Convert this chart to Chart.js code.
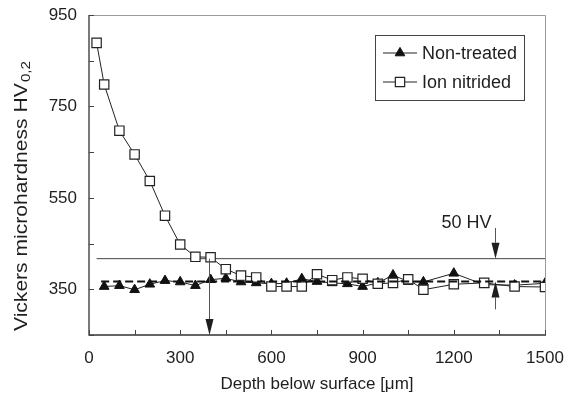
<!DOCTYPE html>
<html lang="en">
<head>
<meta charset="UTF-8" />
<title>Vickers microhardness profile</title>
<script src="https://cdn.jsdelivr.net/npm/chart.js@4.4.1/dist/chart.umd.min.js"></script>
<style>
  html, body { margin: 0; padding: 0; background: #fff; }
  .chart-container { width: 577px; height: 413px; }
</style>
</head>
<body>
<div class="chart-container"><canvas id="myChart"></canvas></div>
<script>
// depth below surface [um] and hardness HV0,2
const depthIon = [25, 50, 100, 150, 200, 250, 300, 350, 400, 450, 500, 550, 600, 650, 700, 750, 800, 850, 900, 950, 1000, 1050, 1100, 1200, 1300, 1400, 1500];
const ionNitrided = [889, 798, 697, 645, 587, 511, 448, 421, 420, 394, 380, 376, 356, 356, 356, 383, 370, 376, 373, 362, 364, 372, 349, 361, 364, 356, 355];

const depthNon = [50, 100, 150, 200, 250, 300, 350, 400, 450, 500, 550, 600, 650, 700, 750, 800, 850, 900, 950, 1000, 1050, 1100, 1200, 1300, 1400, 1500];
const nonTreated = [356, 358, 349, 361, 369, 366, 358, 371, 374, 366, 364, 362, 363, 373, 367, 364, 362, 356, 364, 381, 367, 366, 385, 360, 359, 363];

const meanHV = 367;        // core hardness (dashed)
const limitHV = 417;       // core + 50 HV
const meanStart = 40;
const limitStart = 25;
const caseDepth = 395;     // nitrided depth arrow
const markDepth = 1335;    // "50 HV" arrows
const upperTail = 484;
const lowerTail = 306;
const labelHV = 496;

const xTickLabels = [0, 300, 600, 900, 1200, 1500];
const yTickLabels = [350, 550, 750, 950];

const FONT = "'Liberation Sans', Arial, Helvetica, sans-serif";
const INK = "#1e1e1e";

function pts(xs, ys) {
  return xs.map(function (x, i) { return { x: x, y: ys[i] }; });
}

// frame + inward tick marks
const framePlugin = {
  id: "frame",
  beforeDatasetsDraw(chart) {
    const ctx = chart.ctx;
    const a = chart.chartArea;
    const xs = chart.scales.x, ys = chart.scales.y;
    ctx.save();
    ctx.strokeStyle = "#9a9a9a";
    ctx.lineWidth = 1;
    ctx.beginPath();
    ctx.moveTo(a.left, a.top + 0.5);
    ctx.lineTo(a.right + 0.5, a.top + 0.5);
    ctx.lineTo(a.right + 0.5, a.bottom);
    ctx.stroke();

    ctx.strokeStyle = "#333";
    ctx.lineWidth = 1.3;
    ctx.beginPath();
    ctx.moveTo(a.left, a.top);
    ctx.lineTo(a.left, a.bottom);
    ctx.lineTo(a.right + 1, a.bottom);
    ctx.stroke();

    ctx.lineWidth = 1;
    ctx.strokeStyle = "#444";
    ctx.beginPath();
    xs.ticks.forEach(function (t) {
      const px = Math.round(xs.getPixelForValue(t.value)) + 0.5;
      ctx.moveTo(px, a.bottom);
      ctx.lineTo(px, a.bottom - 5);
    });
    ys.ticks.forEach(function (t) {
      const py = Math.round(ys.getPixelForValue(t.value)) + 0.5;
      ctx.moveTo(a.left, py);
      ctx.lineTo(a.left + 5, py);
    });
    ctx.stroke();
    ctx.restore();
  }
};

function arrow(ctx, x, y1, y2) {
  const dir = y2 > y1 ? 1 : -1;
  const head = 16;
  ctx.strokeStyle = "#555";
  ctx.lineWidth = 1;
  ctx.beginPath();
  ctx.moveTo(x, y1);
  ctx.lineTo(x, y2 - dir * head);
  ctx.stroke();
  ctx.fillStyle = INK;
  ctx.beginPath();
  ctx.moveTo(x, y2);
  ctx.lineTo(x - 4, y2 - dir * head);
  ctx.lineTo(x + 4, y2 - dir * head);
  ctx.closePath();
  ctx.fill();
}

// arrows, "50 HV", legend box, y title with subscript
const notesPlugin = {
  id: "notes",
  afterDatasetsDraw(chart) {
    const ctx = chart.ctx;
    const a = chart.chartArea;
    const xs = chart.scales.x, ys = chart.scales.y;
    ctx.save();

    const cx = Math.round(xs.getPixelForValue(caseDepth)) + 0.5;
    arrow(ctx, cx, ys.getPixelForValue(limitHV), a.bottom);

    const mx = Math.round(xs.getPixelForValue(markDepth)) + 0.5;
    arrow(ctx, mx, ys.getPixelForValue(upperTail), ys.getPixelForValue(limitHV));
    arrow(ctx, mx, ys.getPixelForValue(lowerTail), ys.getPixelForValue(meanHV));

    ctx.fillStyle = INK;
    ctx.font = "18px " + FONT;
    ctx.textAlign = "right";
    ctx.textBaseline = "middle";
    ctx.fillText("50 HV", mx - 4, ys.getPixelForValue(labelHV));

    // legend
    const lw = 149, lh = 65;
    const lx = a.right - 21 - lw, ly = a.top + 20;
    ctx.fillStyle = "#fff";
    ctx.fillRect(lx, ly, lw, lh);
    ctx.strokeStyle = "#444";
    ctx.lineWidth = 1;
    ctx.strokeRect(Math.round(lx) + 0.5, Math.round(ly) + 0.5, lw, lh);
    const rows = [ly + 18, ly + 47];
    chart.data.datasets.slice(0, 2).forEach(function (ds, i) {
      const y = rows[i];
      ctx.strokeStyle = ds.borderColor;
      ctx.lineWidth = 1;
      ctx.beginPath();
      ctx.moveTo(lx + 8, y);
      ctx.lineTo(lx + 42, y);
      ctx.stroke();
      ctx.fillStyle = ds.pointBackgroundColor;
      ctx.strokeStyle = ds.pointBorderColor;
      ctx.lineWidth = ds.pointBorderWidth;
      Chart.helpers.drawPoint(ctx, {
        pointStyle: ds.pointStyle,
        radius: ds.pointRadius,
        borderWidth: ds.pointBorderWidth,
        rotation: 0
      }, lx + 25, y);
      ctx.fillStyle = INK;
      ctx.font = "18px " + FONT;
      ctx.textAlign = "left";
      ctx.textBaseline = "middle";
      ctx.fillText(ds.label, lx + 47, y + 1);
    });

    // y axis title, stretched along its length like the original
    ctx.translate(22, 196);
    ctx.rotate(-Math.PI / 2);
    ctx.scale(1.17, 1);
    ctx.fillStyle = INK;
    ctx.textBaseline = "middle";
    ctx.textAlign = "left";
    const main = "Vickers microhardness HV";
    const sub = "0,2";
    ctx.font = "18px " + FONT;
    const w1 = ctx.measureText(main).width;
    ctx.font = "13px " + FONT;
    const w2 = ctx.measureText(sub).width;
    const start = -(w1 + w2 + 1) / 2;
    ctx.font = "18px " + FONT;
    ctx.fillText(main, start, 0);
    ctx.font = "13px " + FONT;
    ctx.fillText(sub, start + w1 + 1, 4);
    ctx.restore();
  }
};

const ctx = document.getElementById("myChart").getContext("2d");
const myChart = new Chart(ctx, {
  type: "line",
  data: {
    datasets: [
      {
        label: "Non-treated",
        data: pts(depthNon, nonTreated),
        borderColor: "#222",
        borderWidth: 1,
        pointStyle: "triangle",
        pointRadius: 5.6,
        pointBorderWidth: 1,
        pointBackgroundColor: "#111",
        pointBorderColor: "#111",
        order: 2
      },
      {
        label: "Ion nitrided",
        data: pts(depthIon, ionNitrided),
        borderColor: "#222",
        borderWidth: 1,
        pointStyle: "rect",
        pointRadius: 6.6,
        pointBorderWidth: 1.2,
        pointBackgroundColor: "#fff",
        pointBorderColor: "#222",
        order: 1
      },
      {
        label: "mean",
        data: [{ x: meanStart, y: meanHV }, { x: 1500, y: meanHV }],
        borderColor: "#111",
        borderWidth: 2.2,
        borderDash: [8, 4],
        pointRadius: 0,
        order: 0
      },
      {
        label: "limit",
        data: [{ x: limitStart, y: limitHV }, { x: 1500, y: limitHV }],
        borderColor: "#444",
        borderWidth: 1,
        pointRadius: 0,
        order: 3
      }
    ]
  },
  options: {
    responsive: true,
    maintainAspectRatio: false,
    animation: false,
    layout: { padding: { left: 0, right: 32, top: 15, bottom: 0 } },
    scales: {
      x: {
        type: "linear",
        min: 0,
        max: 1500,
        grid: { display: false },
        border: { display: false },
        ticks: {
          stepSize: 150,
          autoSkip: false,
          maxRotation: 0,
          padding: 5,
          color: INK,
          font: { family: FONT, size: 17 },
          callback: function (v) { return xTickLabels.includes(v) ? String(v) : ""; }
        },
        title: {
          display: true,
          text: "Depth below surface [μm]",
          color: INK,
          font: { family: FONT, size: 17 },
          padding: { top: 0, bottom: 18 }
        },
        afterFit: function (s) {
          s.height = 78;
          s.paddingLeft = 0;
          s.paddingRight = 0;
        }
      },
      y: {
        min: 250,
        max: 950,
        grid: { display: false },
        border: { display: false },
        ticks: {
          stepSize: 100,
          autoSkip: false,
          padding: 4,
          color: INK,
          font: { family: FONT, size: 17 },
          callback: function (v) { return yTickLabels.includes(v) ? String(v) : ""; }
        },
        afterFit: function (s) {
          s.width = 89;
          s.paddingTop = 0;
          s.paddingBottom = 0;
        }
      }
    },
    plugins: {
      legend: { display: false },
      tooltip: { enabled: false }
    }
  },
  plugins: [framePlugin, notesPlugin]
});
</script>
</body>
</html>
